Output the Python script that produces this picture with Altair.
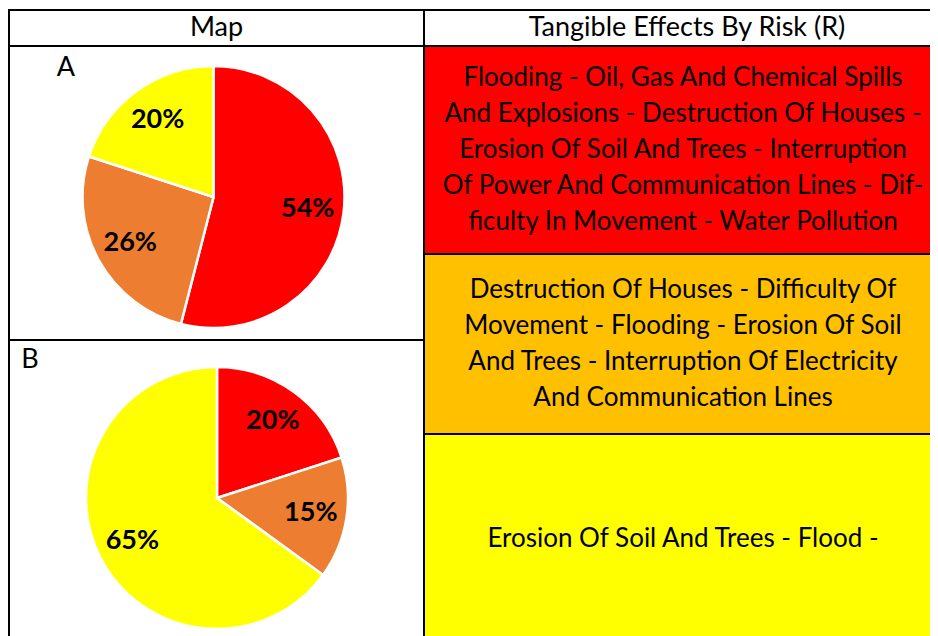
import altair as alt
import pandas as pd

# ---- data ----
risk_levels = ["High", "Medium", "Low"]
risk_colors = ["#FF0000", "#ED7D31", "#FFFF00"]
pie_a_values = [54, 26, 20]
pie_b_values = [20, 15, 65]

headers = ["Map", "Tangible Effects By Risk (R)"]
effects_text = [
    "Flooding - Oil, Gas And Chemical Spills\nAnd Explosions - Destruction Of Houses -\nErosion Of Soil And Trees - Interruption\nOf Power And Communication Lines - Dif-\nficulty In Movement - Water Pollution",
    "Destruction Of Houses - Difficulty Of\nMovement - Flooding - Erosion Of Soil\nAnd Trees - Interruption Of Electricity\nAnd Communication Lines",
    "Erosion Of Soil And Trees - Flood -",
]
effects_fill = ["#FF0000", "#FFC000", "#FFFF00"]

# ---- layout tables (table grid in chart pixel space) ----
W, H = 922, 628
LINE_H = 36
texts = headers + ["", ""] + effects_text
cells = pd.DataFrame({
    "x":  [1, 416, 1, 1, 416, 416, 416],
    "x2": [416, 942, 416, 416, 934, 934, 934],
    "y":  [2, 2, 38, 332, 38, 246, 426],
    "y2": [38, 38, 332, 640, 246, 426, 636],
    "fill": ["white", "white", "white", "white"] + effects_fill,
    "text": texts,
    "nlines": [t.count("\n") + 1 for t in texts],
    "kind": ["header", "header", "map", "map", "effect", "effect", "effect"],
})

pies = pd.DataFrame({
    "pie": ["A", "B"],
    "cx": [205.5, 209],
    "cy": [189, 490],
    "lx": [58, 22],
    "ly": [60, 352],
})

rows = []
for pie, vals in (("A", pie_a_values), ("B", pie_b_values)):
    c = pies.loc[pies.pie == pie].iloc[0]
    for i, (lvl, v) in enumerate(zip(risk_levels, vals)):
        rows.append({"pie": pie, "level": lvl, "order": i, "value": v,
                     "label": f"{v}%", "x": c.cx, "y": c.cy})
slices = pd.DataFrame(rows)

xs = alt.Scale(domain=[0, W], range=[0, W], nice=False, zero=False)
ys = alt.Scale(domain=[0, H], range=[0, H], nice=False, zero=False)
color = alt.Color("level:N", scale=alt.Scale(domain=risk_levels, range=risk_colors), legend=None)
FONT = "Lato"

rects = alt.Chart(cells).mark_rect(stroke="black", strokeWidth=2).encode(
    x=alt.X("x:Q", scale=xs, axis=None),
    x2="x2:Q",
    y=alt.Y("y:Q", scale=ys, axis=None),
    y2="y2:Q",
    fill=alt.Fill("fill:N", scale=None),
)

base_txt = alt.Chart(cells).transform_calculate(
    cxm="(datum.x + datum.x2) / 2",
    cym=f"(datum.y + datum.y2) / 2 - (datum.nlines - 1) * {LINE_H} / 2",
)
header_txt = base_txt.transform_filter(alt.datum.kind == "header").mark_text(
    font=FONT, fontSize=27, color="black", baseline="middle", align="center"
).encode(
    x=alt.X("cxm:Q", scale=xs), y=alt.Y("cym:Q", scale=ys), text="text:N"
)
effect_txt = base_txt.transform_filter(alt.datum.kind == "effect").mark_text(
    font=FONT, fontSize=26, color="black", baseline="middle", align="center",
    lineBreak="\n", lineHeight=LINE_H,
).encode(
    x=alt.X("cxm:Q", scale=xs), y=alt.Y("cym:Q", scale=ys), text="text:N"
)

letters = alt.Chart(pies).mark_text(
    font=FONT, fontSize=27, color="black", baseline="middle", align="center"
).encode(x=alt.X("lx:Q", scale=xs), y=alt.Y("ly:Q", scale=ys), text="pie:N")

layers = [rects, header_txt, effect_txt, letters]
for pie in ["A", "B"]:
    sub = alt.Chart(slices).transform_filter(alt.datum.pie == pie)
    enc = dict(
        x=alt.X("x:Q", scale=xs),
        y=alt.Y("y:Q", scale=ys),
        theta=alt.Theta("value:Q", stack=True),
        order=alt.Order("order:Q"),
    )
    arc = sub.mark_arc(outerRadius=131, stroke="white", strokeWidth=2.5).encode(color=color, **enc)
    lab = sub.mark_text(radius=95, font=FONT, fontSize=27, fontWeight="bold",
                        color="black", baseline="middle", align="center").encode(text="label:N", **enc)
    layers += [arc, lab]

chart = alt.layer(*layers).properties(
    width=W, height=H, padding=0, autosize=alt.AutoSizeParams(type="none")
).configure_view(stroke=None)

chart.save("out.html", embed_options={"renderer": "svg", "actions": False})
